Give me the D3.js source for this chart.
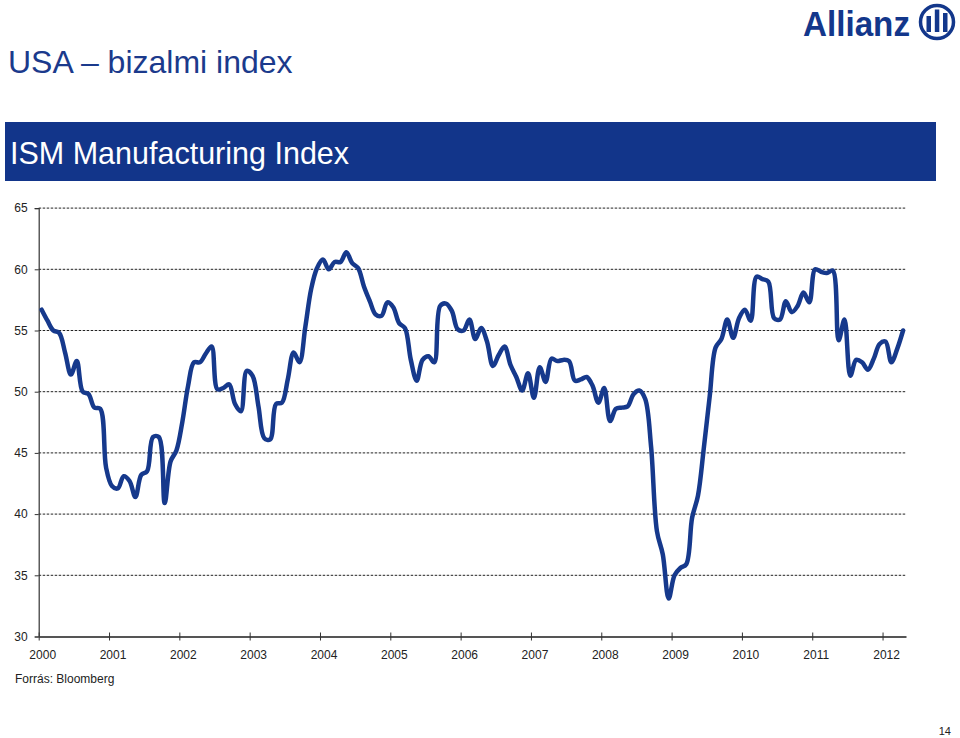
<!DOCTYPE html>
<html>
<head>
<meta charset="utf-8">
<script src="https://cdn.jsdelivr.net/npm/d3@7"></script>
<style>
  html, body { margin: 0; padding: 0; background: #fff; }
  svg { display: block; font-family: "Liberation Sans", Arial, sans-serif; }
</style>
</head>
<body>
<svg id="chart" width="960" height="738"></svg>
<script>
// ---- data (monthly ISM Manufacturing Index, Jan 2000 – Apr 2012) ----
const yearLabels = ["2000","2001","2002","2003","2004","2005","2006","2007","2008","2009","2010","2011","2012"];
const yTicks = [30, 35, 40, 45, 50, 55, 60, 65];
const ism2000 = [56.7, 55.8, 55.0, 54.8, 53.2, 51.4, 52.5, 50.0, 49.8, 48.7, 48.6, 43.8];
const ism2001 = [42.3, 42.1, 43.1, 42.7, 41.4, 43.2, 43.5, 46.3, 46.3, 40.9, 44.3, 45.2];
const ism2002 = [47.5, 50.5, 52.4, 52.4, 53.1, 53.7, 50.2, 50.3, 50.6, 49.0, 48.4, 51.7];
const ism2003 = [51.3, 48.8, 46.2, 46.1, 49.0, 49.1, 51.0, 53.2, 52.4, 55.3, 58.4, 60.1];
const ism2004 = [60.8, 60.0, 60.6, 60.6, 61.4, 60.5, 60.1, 58.6, 57.4, 56.3, 56.2, 57.3];
const ism2005 = [56.9, 55.6, 55.2, 52.6, 50.9, 52.6, 52.9, 52.4, 57.0, 57.2, 56.6, 55.1];
const ism2006 = [55.0, 55.9, 54.3, 55.2, 54.1, 52.1, 53.0, 53.7, 52.2, 51.2, 50.1, 51.5];
const ism2007 = [49.5, 52.0, 50.8, 52.7, 52.5, 52.6, 52.5, 50.9, 51.0, 51.2, 50.5, 49.1];
const ism2008 = [50.3, 47.6, 48.6, 48.7, 48.8, 49.8, 50.1, 49.4, 45.5, 38.6, 36.7, 33.1];
const ism2009 = [35.0, 35.6, 35.9, 39.7, 41.5, 45.4, 49.6, 53.6, 54.3, 55.9, 54.4, 56.0];
const ism2010 = [56.7, 55.8, 59.4, 59.2, 59.0, 56.0, 55.9, 57.4, 56.5, 57.0, 58.1, 57.3];
const ism2011 = [60.0, 59.8, 59.7, 59.9, 54.2, 55.9, 51.3, 52.6, 52.4, 51.8, 52.7, 53.9];
const ism2012 = [54.1, 52.4, 53.5, 55.0];

const values = [].concat(ism2000, ism2001, ism2002, ism2003, ism2004, ism2005, ism2006,
                         ism2007, ism2008, ism2009, ism2010, ism2011, ism2012);

// ---- layout ----
const svg = d3.select("#chart");
const navy = "#13378b";
const plot = { left: 38.7, right: 906, top: 208.1, bottom: 636.5 };

const x = d3.scaleLinear().domain([0, values.length]).range([plot.left, plot.right]);
const y = d3.scaleLinear().domain([30, 65]).range([plot.bottom, plot.top]);

// ---- header ----
svg.append("text")
  .attr("x", 8).attr("y", 73)
  .attr("font-size", 32).attr("fill", "#1b3a8c")
  .text("USA – bizalmi index");

svg.append("rect")
  .attr("x", 5).attr("y", 122).attr("width", 931).attr("height", 59)
  .attr("fill", "#12358a");
svg.append("text")
  .attr("x", 10).attr("y", 163.5)
  .attr("font-size", 30.5).attr("fill", "#ffffff")
  .text("ISM Manufacturing Index");

// ---- logo ----
const logo = svg.append("g");
logo.append("text")
  .attr("x", 803).attr("y", 36)
  .attr("font-size", 35).attr("font-weight", "bold").attr("fill", navy)
  .attr("textLength", 107).attr("lengthAdjust", "spacingAndGlyphs")
  .text("Allianz");
logo.append("circle")
  .attr("cx", 937).attr("cy", 22).attr("r", 16.5)
  .attr("fill", "none").attr("stroke", navy).attr("stroke-width", 3.5);
const bars = [[926.5, 16, 4.5], [934.8, 9.5, 4.5], [943, 13, 4.5]];
bars.forEach(b => {
  logo.append("rect").attr("x", b[0]).attr("y", b[1]).attr("width", b[2])
    .attr("height", 32 - b[1]).attr("fill", navy);
});

// ---- gridlines ----
svg.append("g").selectAll("line")
  .data(yTicks.filter(t => t > 30))
  .join("line")
  .attr("x1", plot.left).attr("x2", plot.right)
  .attr("y1", d => y(d)).attr("y2", d => y(d))
  .attr("stroke", "#222").attr("stroke-width", 1)
  .attr("stroke-dasharray", "2.5,1.5");

// ---- y axis ----
const yAxis = d3.axisLeft(y).tickValues(yTicks).tickSize(4).tickPadding(7);
const gy = svg.append("g").attr("transform", `translate(${plot.left},0)`).call(yAxis);
gy.select(".domain").attr("stroke", "#333").attr("stroke-width", 1.2);
gy.selectAll(".tick line").attr("stroke", "#333");
gy.selectAll(".tick text")
  .attr("font-family", "Liberation Sans, Arial, sans-serif")
  .attr("font-size", 12).attr("fill", "#222");

// ---- x axis ----
const yearTickPos = yearLabels.map((d, i) => i * 12);
const xAxis = d3.axisBottom(x)
  .tickValues(yearTickPos)
  .tickFormat((d, i) => yearLabels[i])
  .tickSizeOuter(0).tickSizeInner(4).tickPadding(10);
const gx = svg.append("g").attr("transform", `translate(0,${plot.bottom})`).call(xAxis);
gx.select(".domain").attr("stroke", "#555").attr("stroke-width", 2);
gx.selectAll(".tick line").attr("stroke", "#333").attr("y1", -4).attr("y2", 4);
gx.selectAll(".tick text")
  .attr("font-family", "Liberation Sans, Arial, sans-serif")
  .attr("font-size", 12).attr("fill", "#222")
  .attr("dx", 3.5);

// ---- line ----
const line = d3.line()
  .x((d, i) => x(i + 0.5))
  .y(d => y(d))
  .curve(d3.curveCatmullRom.alpha(0.5));
svg.append("path")
  .datum(values)
  .attr("d", line)
  .attr("fill", "none")
  .attr("stroke", "#16398c")
  .attr("stroke-width", 4.5)
  .attr("stroke-linejoin", "round")
  .attr("stroke-linecap", "round");

// ---- footer ----
svg.append("text")
  .attr("x", 15).attr("y", 683)
  .attr("font-size", 12).attr("fill", "#222")
  .text("Forrás: Bloomberg");
svg.append("text")
  .attr("x", 951).attr("y", 735)
  .attr("text-anchor", "end")
  .attr("font-size", 11).attr("fill", "#222")
  .text("14");
</script>
</body>
</html>
